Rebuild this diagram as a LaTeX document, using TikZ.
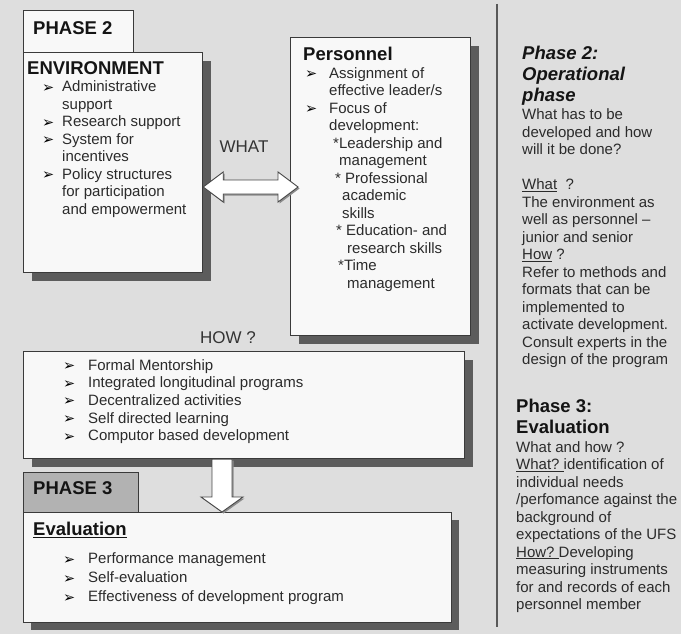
\documentclass[tikz,border=0pt]{standalone}
\usepackage{fontspec}
\setmainfont{Liberation Sans}
\newfontfamily\bulfamily{DejaVu Sans}
\usetikzlibrary{calc,positioning,shadows}

\definecolor{bggray}{HTML}{DEDEDE}
\definecolor{boxfill}{HTML}{F8F8F8}
\definecolor{boxline}{HTML}{3A3A3A}
\definecolor{shadowgray}{HTML}{5C5C5C}
\definecolor{tabgray}{HTML}{B2B2B2}
\definecolor{inkgray}{HTML}{2B2B2B}

\newcommand\headfont{\fontsize{18.5}{21}\selectfont\bfseries}
\newcommand\bodyfont{\fontsize{15}{17.5}\selectfont}
\newcommand\arw[1][20pt]{\makebox[#1][l]{\bulfamily\fontsize{14.5}{14.5}\selectfont\color{black}\raisebox{-0.5pt}{➢}}}

\begin{document}
\begin{tikzpicture}[
  x=1pt, y=-1pt,
  every node/.style={font=\bodyfont, text=inkgray},
  panel/.style={
    draw=boxline,
    line width=1.2pt,
    fill=boxfill,
    anchor=north west,
    inner sep=0pt,
    general shadow={fill=shadowgray, shadow xshift=#1, shadow yshift=-#1}
  },
  panel/.default=8pt,
  tab/.style={
    draw=boxline,
    line width=1.2pt,
    anchor=north west,
    inner sep=0pt,
    fill=#1
  },
  listtext/.style={anchor=north west, inner sep=0pt, align=left},
  head/.style={font=\headfont, text=black!92},
  lbl/.style={font=\fontsize{17}{20}\selectfont, text=black!80},
  blockarrow/.style={
    draw=black!72,
    line width=0.9pt,
    fill=white,
    line join=miter,
    general shadow={fill=black!45, shadow xshift=1.5pt, shadow yshift=-1.5pt}
  },
  divider/.style={draw=black!65, line width=1.6pt}
]
\fill[bggray] (0,0) rectangle (681,634);
\useasboundingbox (0,0) rectangle (681,634);
\draw[divider] (497,4) -- (497,627);

% phase 2: what
\node[tab=boxfill, minimum width=110pt, minimum height=42pt] (tab2) at (23,10) {};
\node[head, anchor=north west, inner sep=0pt, below right=11pt and 10pt of tab2.north west] (tab2txt) {PHASE 2};
\node[panel, minimum width=179pt, minimum height=220pt] (env) at (23,52) {};
\node[listtext, below right=9pt and 4pt of env.north west] (envtxt) {{\headfont\color{black!92}ENVIRONMENT}\\
\hspace*{15pt}\arw Administrative\\
\hspace*{35pt}support\\
\hspace*{15pt}\arw Research support\\
\hspace*{15pt}\arw System for\\
\hspace*{35pt}incentives\\
\hspace*{15pt}\arw Policy structures\\
\hspace*{35pt}for participation\\
\hspace*{35pt}and empowerment};

\node[panel, minimum width=180pt, minimum height=298pt] (pers) at (290,37) {};
\node[listtext, below right=10pt and 13pt of pers.north west] (perstxt) {{\headfont\color{black!92}Personnel}\\
\hspace*{2pt}\arw[24pt]Assignment of\\
\hspace*{26pt}effective leader/s\\
\hspace*{2pt}\arw[24pt]Focus of\\
\hspace*{26pt}development:\\
\hspace*{30pt}*Leadership and\\
\hspace*{36pt}management\\
\hspace*{32pt}* Professional\\
\hspace*{39pt}academic\\
\hspace*{39pt}skills\\
\hspace*{33pt}* Education- and\\
\hspace*{44pt}research skills\\
\hspace*{35pt}*Time\\
\hspace*{44pt}management};

\node[lbl] (whatlbl) at (244,147) {WHAT};
\coordinate (wl) at (env.east |- 0,187);
\coordinate (wr) at ($(pers.west |- 0,187)+(8,0)$);
\draw[blockarrow] (wl) -- ($(wl)+(20,-15)$) -- ($(wl)+(20,-7)$) -- ($(wr)+(-20,-7)$)
  -- ($(wr)+(-20,-15)$) -- (wr) -- ($(wr)+(-20,15)$) -- ($(wr)+(-20,7)$)
  -- ($(wl)+(20,7)$) -- ($(wl)+(20,15)$) -- cycle;

% how
\node[lbl] (howlbl) at (228,338) {HOW ?};
\node[panel, minimum width=441pt, minimum height=107pt] (how) at (23,351) {};
\node[listtext, font=\fontsize{15}{17.7}\selectfont, below right=8pt and 40pt of how.north west] (howtxt) {\arw[25pt]Formal Mentorship\\
\arw[25pt]Integrated longitudinal programs\\
\arw[25pt]Decentralized activities\\
\arw[25pt]Self directed learning\\
\arw[25pt]Computor based development};

% phase 3: evaluation
\node[tab=tabgray, minimum width=115pt, minimum height=40pt] (tab3) at (23,472) {};
\node[head, anchor=north west, inner sep=0pt, below right=9pt and 10pt of tab3.north west] (tab3txt) {PHASE 3};
\node[panel=7pt, minimum width=428pt, minimum height=110pt] (eval) at (23,512) {};
\node[listtext, font=\fontsize{15}{19}\selectfont, below right=10pt and 10pt of eval.north west] (evaltxt) {{\headfont\color{black!92}\underline{Evaluation}}\\[9pt]
\hspace*{30pt}\arw[25pt]Performance management\\
\hspace*{30pt}\arw[25pt]Self-evaluation\\
\hspace*{30pt}\arw[25pt]Effectiveness of development program};

\coordinate (dtop) at (how.south -| 222,0);
\coordinate (dtip) at (eval.north -| 222,0);
\draw[blockarrow] ($(dtop)+(-10,0)$) -- ($(dtip)+(-10,-15)$) -- ($(dtip)+(-21,-15)$) -- (dtip)
  -- ($(dtip)+(21,-15)$) -- ($(dtip)+(10,-15)$) -- ($(dtop)+(10,0)$) -- cycle;

% side notes
\node[head, font=\headfont\itshape, listtext] (ph2head) at (522,46) {Phase 2:\\Operational\\phase};
\node[listtext, below=3pt of ph2head.south west, anchor=north west] (ph2body) {What has to be\\
developed and how\\
will it be done?\\[17.5pt]
\underline{What}\ \ ?\\
The environment as\\
well as personnel –\\
junior and senior\\
\underline{How} ?\\
Refer to methods and\\
formats that can be\\
implemented to\\
activate development.\\
Consult experts in the\\
design of the program};

\node[head, listtext] (ph3head) at (516,399) {Phase 3:\\Evaluation};
\node[listtext, below=7pt of ph3head.south west, anchor=north west] (ph3body) {What and how ?\\
\underline{What?\ }identification of\\
individual needs\\
/perfomance against the\\
background of\\
expectations of the UFS\\
\underline{How?\ }Developing\\
measuring instruments\\
for and records of each\\
personnel member};
\end{tikzpicture}
\end{document}
